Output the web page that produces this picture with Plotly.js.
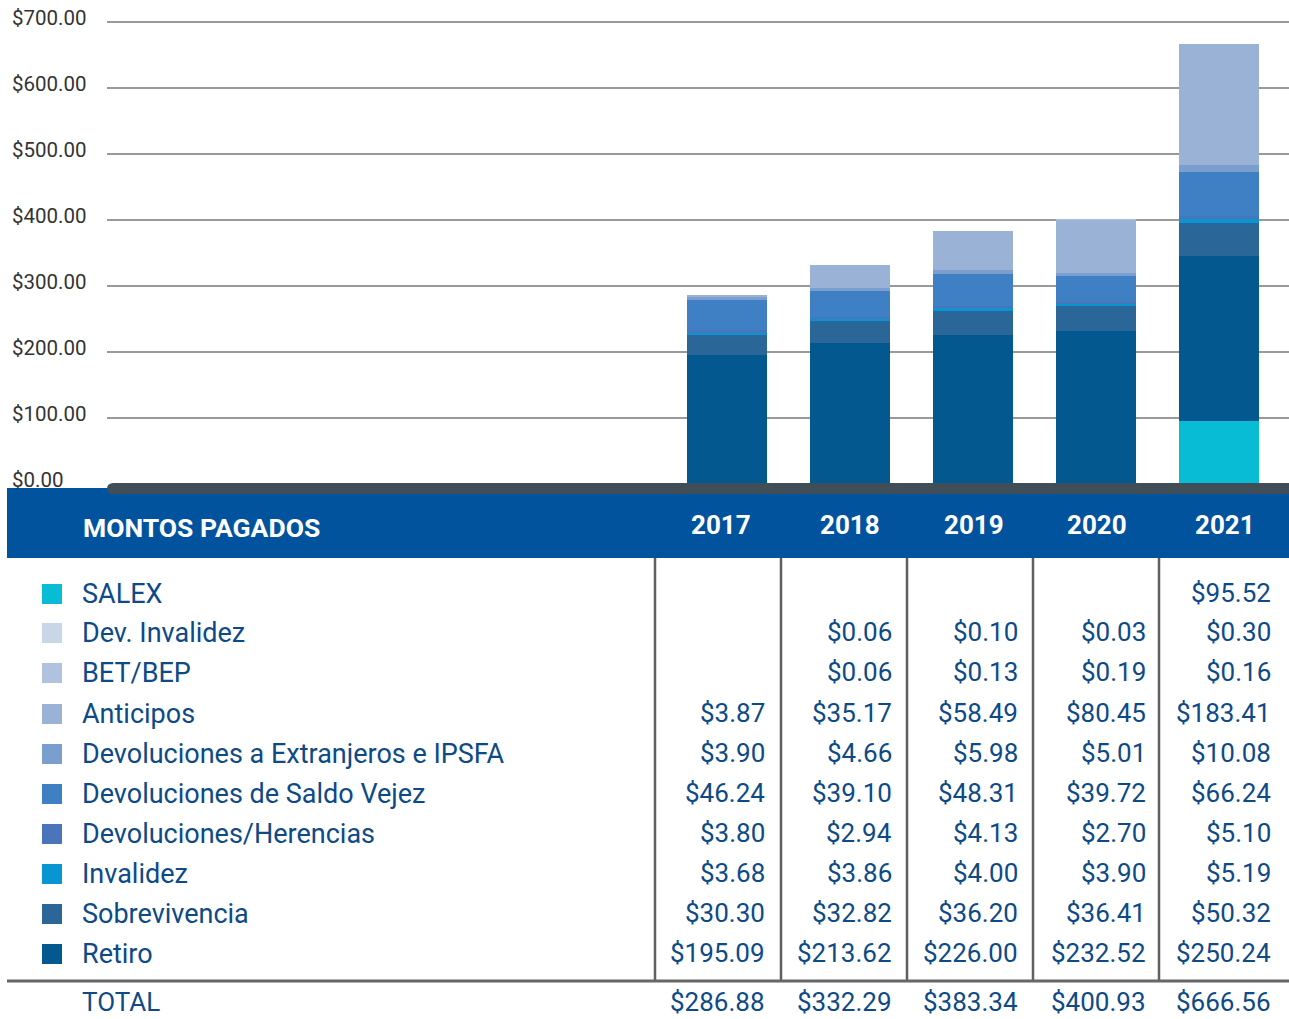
<!DOCTYPE html>
<html>
<head>
<meta charset="utf-8">
<script src="https://cdn.plot.ly/plotly-3.0.1.min.js"></script>
<style>
  html, body { margin: 0; padding: 0; background: #fff; }
  #chart { width: 1289px; height: 1019px; }
</style>
</head>
<body>
<div id="chart"></div>
<script>
// Data
const years = [2017, 2018, 2019, 2020, 2021];
const salex = [null, null, null, null, 95.52];
const devInvalidez = [null, 0.06, 0.10, 0.03, 0.30];
const betBep = [null, 0.06, 0.13, 0.19, 0.16];
const anticipos = [3.87, 35.17, 58.49, 80.45, 183.41];
const extranjeros = [3.90, 4.66, 5.98, 5.01, 10.08];
const saldoVejez = [46.24, 39.10, 48.31, 39.72, 66.24];
const herencias = [3.80, 2.94, 4.13, 2.70, 5.10];
const invalidez = [3.68, 3.86, 4.00, 3.90, 5.19];
const sobrevivencia = [30.30, 32.82, 36.20, 36.41, 50.32];
const retiro = [195.09, 213.62, 226.00, 232.52, 250.24];
const totals = [286.88, 332.29, 383.34, 400.93, 666.56];
const yTicks = [0, 100, 200, 300, 400, 500, 600, 700];

// series in table order (top to bottom)
const series = [
  { name: 'SALEX', values: salex, color: '#07bcd4' },
  { name: 'Dev. Invalidez', values: devInvalidez, color: '#c8d6e8' },
  { name: 'BET/BEP', values: betBep, color: '#b0c2de' },
  { name: 'Anticipos', values: anticipos, color: '#9ab2d6' },
  { name: 'Devoluciones a Extranjeros e IPSFA', values: extranjeros, color: '#7a9ece' },
  { name: 'Devoluciones de Saldo Vejez', values: saldoVejez, color: '#3f80c4' },
  { name: 'Devoluciones/Herencias', values: herencias, color: '#4a75ba' },
  { name: 'Invalidez', values: invalidez, color: '#0896d2' },
  { name: 'Sobrevivencia', values: sobrevivencia, color: '#2a6698' },
  { name: 'Retiro', values: retiro, color: '#03588f' }
];

// stacking order in the bars: SALEX at the bottom, then Retiro upwards
const stackOrder = [0, 9, 8, 7, 6, 5, 4, 3, 2, 1];

const W = 1289, H = 1019;
const px = x => x / W;
const py = y => 1 - y / H;
const money = v => '$' + v.toFixed(2);

const txtBlue = '#0d4a86';
const font = 'Roboto, Arial, sans-serif';

const traces = stackOrder.map(i => ({
  type: 'bar',
  x: years,
  y: series[i].values,
  name: series[i].name,
  width: 0.65,
  marker: { color: series[i].color, line: { width: 0 } },
  hoverinfo: 'skip',
  showlegend: false
}));

const shapes = [];
const annotations = [];

// header band + dark baseline
shapes.push({ type: 'rect', xref: 'paper', yref: 'paper', x0: px(7), x1: 1, y0: py(558), y1: py(488),
  fillcolor: '#02539e', line: { width: 0 }, layer: 'below' });
shapes.push({ type: 'rect', xref: 'paper', yref: 'paper', x0: px(113), x1: 1, y0: py(494), y1: py(483),
  fillcolor: '#404f57', line: { width: 0 }, layer: 'above' });
shapes.push({ type: 'circle', xref: 'paper', yref: 'paper', x0: px(107), x1: px(119), y0: py(494), y1: py(483),
  fillcolor: '#404f57', line: { width: 0 }, layer: 'above' });

annotations.push({ xref: 'paper', yref: 'paper', x: px(81), y: py(527), xanchor: 'left', yanchor: 'middle',
  text: '<b>MONTOS PAGADOS</b>', showarrow: false, font: { family: font, size: 26.5, color: '#fff' } });

const yearCenters = [721, 850, 974, 1097, 1225];
years.forEach((yr, j) => {
  annotations.push({ xref: 'paper', yref: 'paper', x: px(yearCenters[j]), y: py(525), xanchor: 'center', yanchor: 'middle',
    text: '<b>' + yr + '</b>', showarrow: false, font: { family: font, size: 26, color: '#fff' } });
});

// table grid
[655, 781, 907, 1033, 1159].forEach(x => {
  shapes.push({ type: 'line', xref: 'paper', yref: 'paper', x0: px(x), x1: px(x), y0: py(558), y1: py(981),
    line: { color: '#5f5f5f', width: 2.5 } });
});
shapes.push({ type: 'line', xref: 'paper', yref: 'paper', x0: px(7), x1: 1, y0: py(981), y1: py(981),
  line: { color: '#666', width: 3 } });

// table rows
const rowY = [594, 633, 673, 714, 754, 794, 834, 874, 914, 954];
const colRight = [767, 894, 1020, 1148, 1273];
series.forEach((s, i) => {
  const y = rowY[i];
  shapes.push({ type: 'rect', xref: 'paper', yref: 'paper', x0: px(42), x1: px(62), y0: py(y + 10), y1: py(y - 10),
    fillcolor: s.color, line: { width: 0 } });
  annotations.push({ xref: 'paper', yref: 'paper', x: px(80), y: py(y), xanchor: 'left', yanchor: 'middle',
    text: s.name, showarrow: false, font: { family: font, size: 27, color: txtBlue } });
  s.values.forEach((v, j) => {
    if (v === null) return;
    annotations.push({ xref: 'paper', yref: 'paper', x: px(colRight[j]), y: py(y - 1), xanchor: 'right', yanchor: 'middle',
      text: money(v), showarrow: false, font: { family: font, size: 26, color: txtBlue } });
  });
});

annotations.push({ xref: 'paper', yref: 'paper', x: px(80), y: py(1002), xanchor: 'left', yanchor: 'middle',
  text: 'TOTAL', showarrow: false, font: { family: font, size: 26, color: txtBlue } });
totals.forEach((v, j) => {
  annotations.push({ xref: 'paper', yref: 'paper', x: px(colRight[j]), y: py(1002), xanchor: 'right', yanchor: 'middle',
    text: money(v), showarrow: false, font: { family: font, size: 26, color: txtBlue } });
});

const layout = {
  width: W,
  height: H,
  margin: { l: 0, r: 0, t: 0, b: 0 },
  paper_bgcolor: '#fff',
  plot_bgcolor: '#fff',
  barmode: 'stack',
  bargap: 0,
  xaxis: {
    domain: [px(107), 1],
    range: [2011.96, 2021.57],
    visible: false,
    fixedrange: true
  },
  yaxis: {
    domain: [py(484), py(19)],
    range: [0, 704.5],
    side: 'right',
    anchor: 'free',
    position: px(11),
    tickvals: yTicks,
    tickformat: '$.2f',
    ticklabelshift: -4,
    showgrid: true,
    gridcolor: '#999',
    gridwidth: 2,
    zeroline: false,
    showline: false,
    ticks: '',
    tickfont: { family: font, size: 20.5, color: '#333' },
    fixedrange: true
  },
  shapes: shapes,
  annotations: annotations,
  font: { family: font }
};

Plotly.newPlot('chart', traces, layout, { displayModeBar: false, staticPlot: true });
</script>
</body>
</html>
